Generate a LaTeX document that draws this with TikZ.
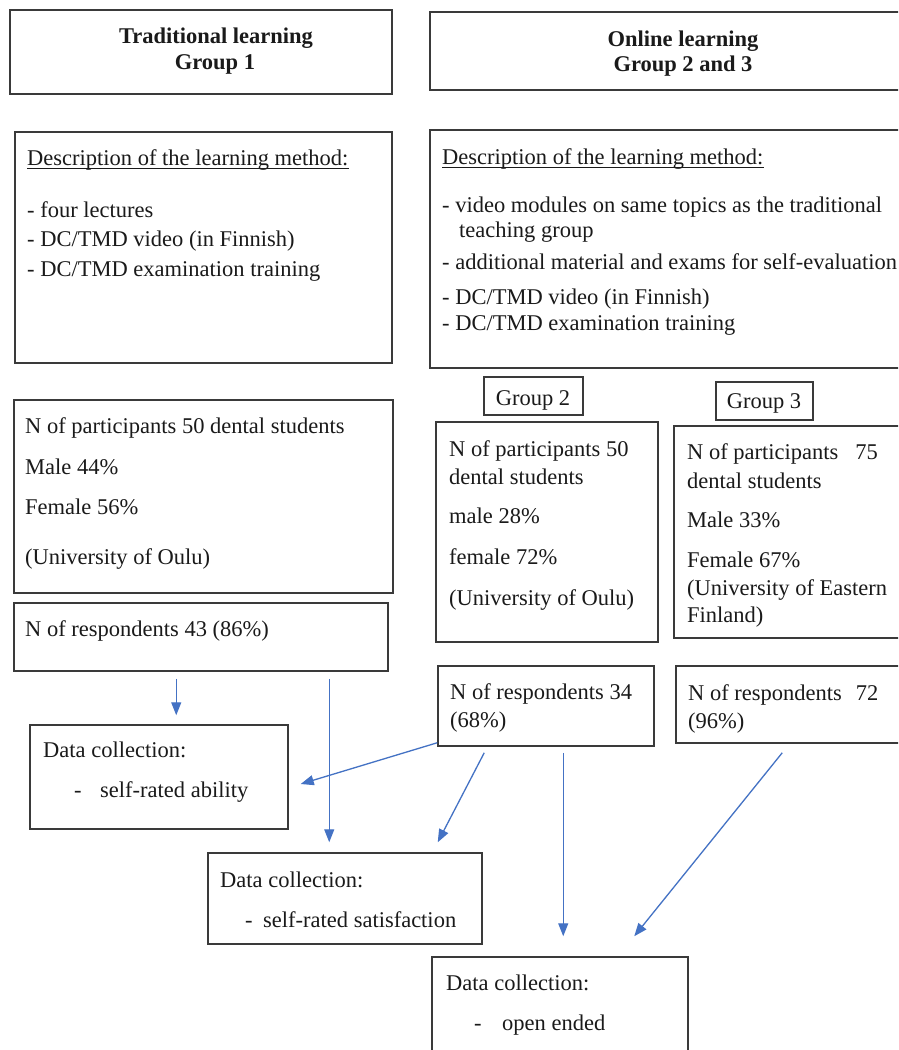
\documentclass[tikz,border=0pt]{standalone}
\usepackage{fontspec}
\setmainfont{Liberation Serif}
\usetikzlibrary{arrows.meta,fit}
\definecolor{arrowblue}{HTML}{4472C4}
\definecolor{boxline}{HTML}{3A3A3A}
\definecolor{ink}{HTML}{1A1A1A}
\begin{document}
\begin{tikzpicture}[x=1pt,y=-1pt,
  box/.style={draw=boxline, line width=1.5pt, inner sep=0pt},
  txt/.style={inner sep=0pt, anchor=base west, text=ink, font=\fontsize{22.5}{26}\selectfont},
  ctxt/.style={txt, anchor=base},
  head/.style={ctxt, font=\fontsize{22.5}{26}\selectfont\bfseries},
  uline/.style={draw=ink, line width=0.9pt},
  arr/.style={draw=arrowblue, line width=1.3pt, -{Triangle[length=13pt,width=10pt]}}]
\path[use as bounding box, fill=white] (0,0) rectangle (898,1050);
\clip (0,0) rectangle (898,1050);

% ---------- boxes ----------
\node[box, fit={(10,10) (392,94)}] (A) {};
\node[box, fit={(430,12) (940,90)}] (B) {};
\node[box, fit={(15,132) (392,363)}] (C) {};
\node[box, fit={(430,130) (940,368)}] (D) {};
\node[box, fit={(14,400) (393,593)}] (E) {};
\node[box, fit={(14,603) (388,671)}] (H) {};
\node[box, fit={(484,377) (583,415)}] (G2) {};
\node[box, fit={(716,382) (813,420)}] (G3) {};
\node[box, fit={(436,422) (658,642)}] (F) {};
\node[box, fit={(674,426) (940,638)}] (G) {};
\node[box, fit={(438,666) (654,746)}] (I) {};
\node[box, fit={(676,666) (940,743)}] (J) {};
\node[box, fit={(30,725) (288,829)}] (K) {};
\node[box, fit={(208,853) (482,944)}] (L) {};
\node[box, fit={(432,957) (688,1090)}] (M) {};

% ---------- texts ----------
\node[head] (A1) at (216,43) {Traditional learning};
\node[head] (A2) at (215,69) {Group 1};
\node[head] (B1) at (683,46) {Online learning};
\node[head] (B2) at (683,71) {Group 2 and 3};

\node[txt] (C1) at (27,165) {Description of the learning method:};
\draw[uline] ([yshift=-3.5pt]C1.base west) -- ([yshift=-3.5pt]C1.base east);
\node[txt] (C2) at (27,217) {- four lectures};
\node[txt] (C3) at (27,246) {- DC/TMD video (in Finnish)};
\node[txt] (C4) at (27,276) {- DC/TMD examination training};

\node[txt] (D1) at (442,164) {Description of the learning method:};
\draw[uline] ([yshift=-3.5pt]D1.base west) -- ([yshift=-3.5pt]D1.base east);
\node[txt] (D2) at (442,212) {- video modules on same topics as the traditional};
\node[txt] (D3) at (459,237) {teaching group};
\node[txt] (D4) at (442,269) {- additional material and exams for self-evaluation};
\node[txt] (D5) at (442,304) {- DC/TMD video (in Finnish)};
\node[txt] (D6) at (442,330) {- DC/TMD examination training};

\node[txt] (E1) at (25,433) {N of participants 50 dental students};
\node[txt] (E2) at (25,474) {Male 44\%};
\node[txt] (E3) at (25,514) {Female 56\%};
\node[txt] (E4) at (25,564) {(University of Oulu)};

\node[txt] (H1) at (25,636) {N of respondents 43 (86\%)};

\node[ctxt] (G2t) at (533,405) {Group 2};
\node[ctxt] (G3t) at (764,408) {Group 3};

\node[txt] (F1) at (449,456) {N of participants 50};
\node[txt] (F2) at (449,484) {dental students};
\node[txt] (F3) at (449,523) {male 28\%};
\node[txt] (F4) at (449,564) {female 72\%};
\node[txt] (F5) at (449,605) {(University of Oulu)};

\node[txt] (Gt1) at (687,459) {N of participants\hspace{17pt}75};
\node[txt] (Gt2) at (687,488) {dental students};
\node[txt] (Gt3) at (687,527) {Male 33\%};
\node[txt] (Gt4) at (687,567) {Female 67\%};
\node[txt] (Gt5) at (687,595) {(University of Eastern};
\node[txt] (Gt6) at (687,622) {Finland)};

\node[txt] (I1) at (450,699) {N of respondents 34};
\node[txt] (I2) at (450,727) {(68\%)};

\node[txt] (J1) at (688,700) {N of respondents\hspace{14pt}72};
\node[txt] (J2) at (688,728) {(96\%)};

\node[txt] (K1) at (43,757) {Data collection:};
\node[txt] (K2) at (74,797) {-\hspace{18.5pt}self-rated ability};

\node[txt] (L1) at (220,887) {Data collection:};
\node[txt] (L2) at (245,927) {-\hspace{10.5pt}self-rated satisfaction};

\node[txt] (M1) at (446,990) {Data collection:};
\node[txt] (M2) at (474,1030) {-\hspace{20.5pt}open ended};

% ---------- connectors ----------
\draw[arr] ([xshift=163pt,yshift=-7pt]H.south west) -- ([xshift=147pt,yshift=9pt]K.north west);
\draw[arr] ([xshift=316pt,yshift=-7pt]H.south west) -- ([xshift=122pt,yshift=10pt]L.north west);
\draw[arr] ([yshift=4pt]I.south west) -- ([xshift=12pt,yshift=-7pt]K.east);
\draw[arr] ([xshift=47pt,yshift=-6pt]I.south west) -- ([xshift=-45pt,yshift=10pt]L.north east);
\draw[arr] ([xshift=126pt,yshift=-6pt]I.south west) -- ([xshift=132pt,yshift=20pt]M.north west);
\draw[arr] ([xshift=107pt,yshift=-9pt]J.south west) -- ([xshift=203pt,yshift=20pt]M.north west);
\end{tikzpicture}
\end{document}
